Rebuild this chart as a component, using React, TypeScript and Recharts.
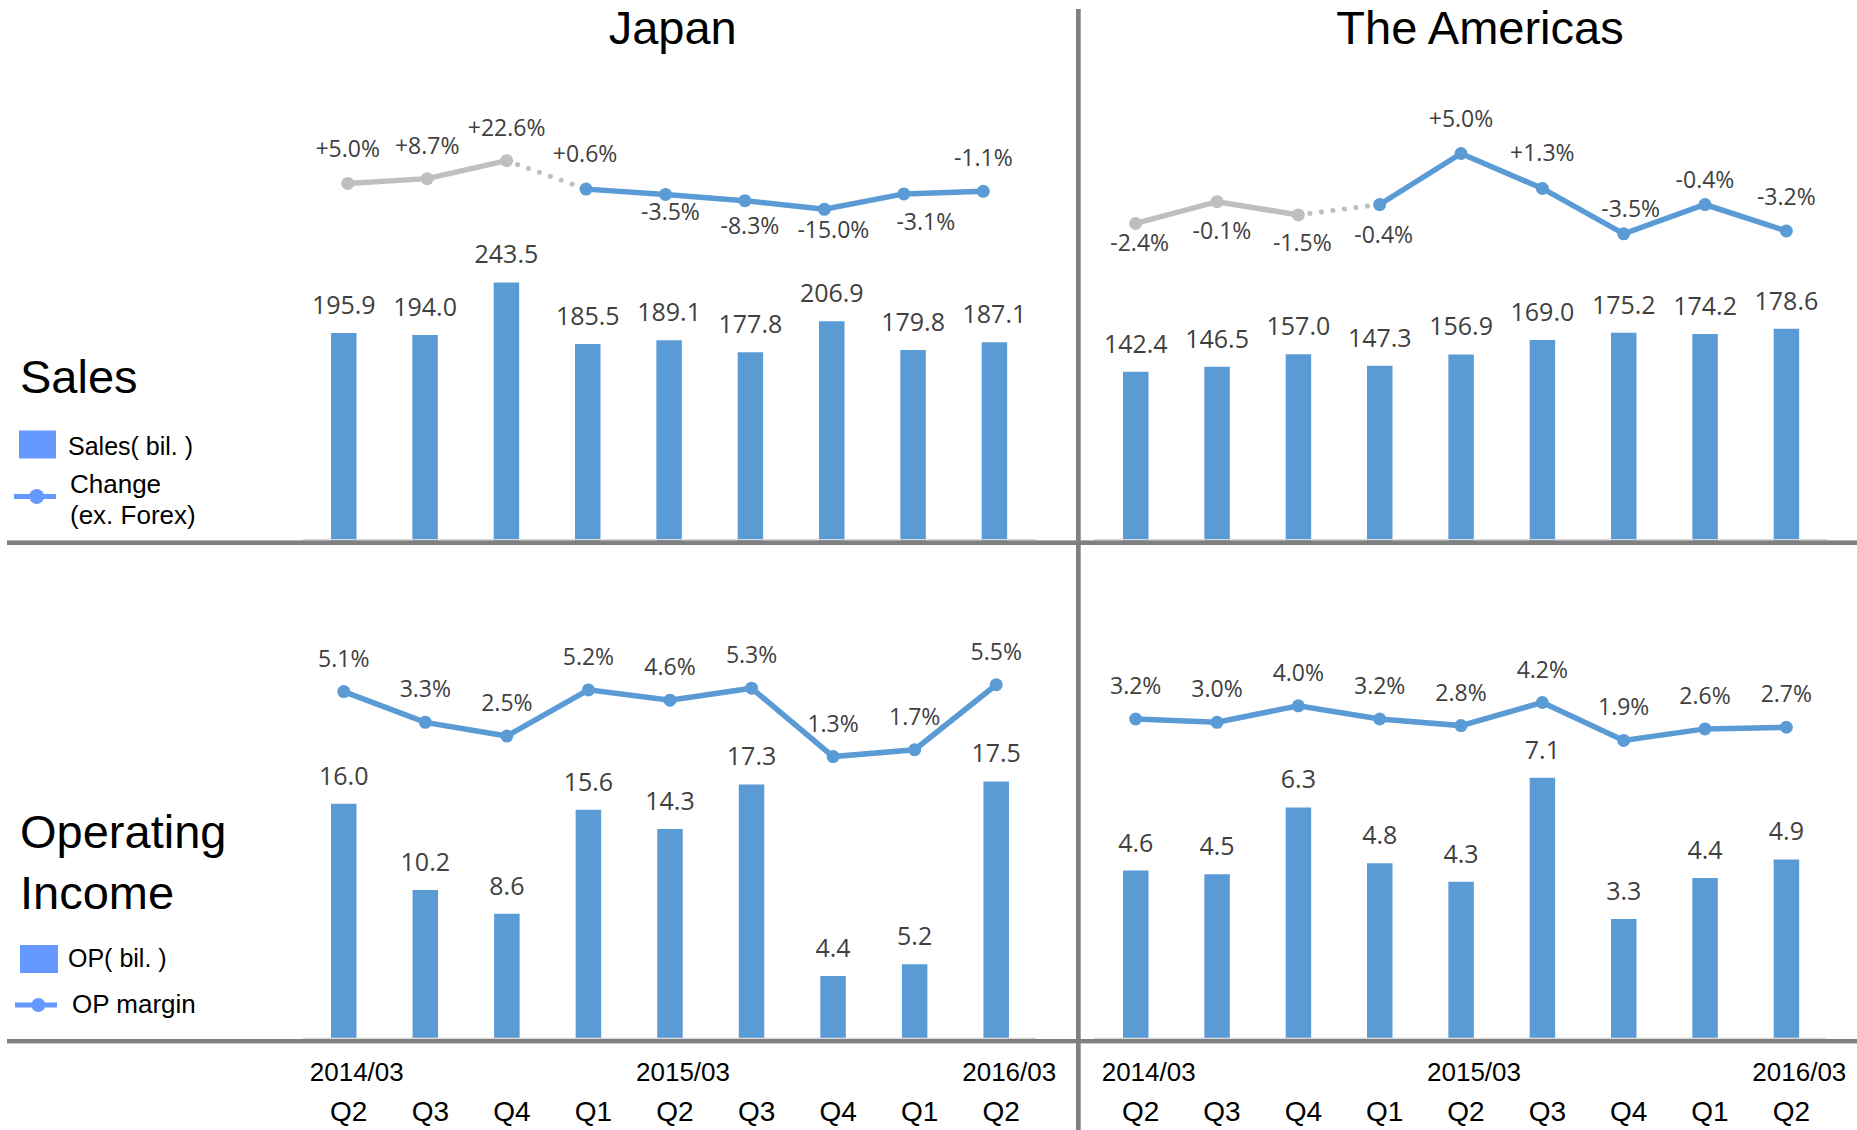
import React from 'react';
import { ComposedChart, Bar, Line, XAxis, YAxis, LabelList } from 'recharts';

// categories
const quarters = ['Q2', 'Q3', 'Q4', 'Q1', 'Q2', 'Q3', 'Q4', 'Q1', 'Q2'];
const yearLabels = ['2014/03', '', '', '', '2015/03', '', '', '', '2016/03'];

// sales (bil.) and change ex. forex (%)
const jpSales = [195.9, 194.0, 243.5, 185.5, 189.1, 177.8, 206.9, 179.8, 187.1];
const jpSalesChange = [5.0, 8.7, 22.6, 0.6, -3.5, -8.3, -15.0, -3.1, -1.1];
const amSales = [142.4, 146.5, 157.0, 147.3, 156.9, 169.0, 175.2, 174.2, 178.6];
const amSalesChange = [-2.4, -0.1, -1.5, -0.4, 5.0, 1.3, -3.5, -0.4, -3.2];

// operating income (bil.) and OP margin (%)
const jpOp = [16.0, 10.2, 8.6, 15.6, 14.3, 17.3, 4.4, 5.2, 17.5];
const jpOpMargin = [5.1, 3.3, 2.5, 5.2, 4.6, 5.3, 1.3, 1.7, 5.5];
const amOp = [4.6, 4.5, 6.3, 4.8, 4.3, 7.1, 3.3, 4.4, 4.9];
const amOpMargin = [3.2, 3.0, 4.0, 3.2, 2.8, 4.2, 1.9, 2.6, 2.7];

// last quarter drawn grey (old basis), dotted link to the next one
const BREAK = 2;

// label placement (dx, dy from the point) for the change lines
const jpChangeLabelOffset = [[0, -26], [0, -25], [0, -25], [-1, -27], [5, 26], [5, 33], [9, 29], [22, 36], [0, -25]];
const amChangeLabelOffset = [[4, 28], [5, 37], [4, 36], [4, 38], [0, -27], [0, -27], [7, -17], [0, -17], [0, -26]];

const BAR = '#5B9BD5';
const BLUE = '#5B9BD5';
const GREY = '#BFBFBF';
const LEGEND = '#6699FF';
const RULE = '#808080';
const LABEL = '#404040';
const SANS = '"Liberation Sans", Arial, sans-serif';
const LABEL_FONT = '"Open Sans", "Noto Sans", sans-serif';

type Row = { cat: string; bar: number; line: number; old: number | null; bridge: number | null; cur: number | null };

const buildRows = (bars: number[], line: number[]): Row[] =>
  quarters.map((_, i) => ({
    cat: String(i),
    bar: bars[i],
    line: line[i],
    old: i <= BREAK ? line[i] : null,
    bridge: i === BREAK || i === BREAK + 1 ? line[i] : null,
    cur: i > BREAK ? line[i] : null,
  }));

const signed = (v: number) => (v > 0 ? '+' : '') + v.toFixed(1) + '%';
const plain = (v: number) => v.toFixed(1) + '%';

const pick = (p: any) => {
  const vb = p.viewBox || {};
  return { x: p.x ?? vb.x ?? 0, y: p.y ?? vb.y ?? 0, w: p.width ?? vb.width ?? 0 };
};

const barLabel = (p: any) => {
  const { x, y, w } = pick(p);
  return (
    <text x={x + w / 2} y={y - 19} textAnchor="middle" fontSize={25} fill={LABEL} fontFamily={LABEL_FONT}>
      {Number(p.value).toFixed(1)}
    </text>
  );
};

const makeLineLabel = (fmt: (v: number) => string, offsets?: number[][]) => (p: any) => {
  const { x, y } = pick(p);
  const off = offsets && p.index != null ? offsets[p.index] : [0, -25];
  return (
    <text x={x + off[0]} y={y + off[1]} textAnchor="middle" fontSize={23} fill={LABEL} fontFamily={LABEL_FONT}>
      {fmt(Number(p.value))}
    </text>
  );
};

const quarterTick = (p: any) => {
  const i = Number(p.payload?.value);
  return (
    <g>
      {yearLabels[i] ? (
        <text x={p.x + 13} y={p.y + 39.5} textAnchor="middle" fontSize={26} fontFamily={SANS} fill="#000">
          {yearLabels[i]}
        </text>
      ) : null}
      <text x={p.x + 5} y={p.y + 79.5} textAnchor="middle" fontSize={28} fontFamily={SANS} fill="#000">
        {quarters[i]}
      </text>
    </g>
  );
};

type PanelProps = {
  rows: Row[];
  left: number;
  top: number;
  width: number;
  plotH: number;
  axisH: number;
  barPx: number; // px per bar unit
  lineZero: number; // px from plot top to 0 %
  linePx: number; // px per %
  split: boolean;
  fmt: (v: number) => string;
  offsets?: number[][];
  linePad?: { left: number; right: number };
};

const SPARE = 40; // room on the right for the last tick label

function Panel(props: PanelProps) {
  const { rows, left, top, width, plotH, axisH, barPx, lineZero, linePx, split, fmt, offsets, linePad } = props;
  const barDomain = [0, plotH / barPx];
  const lineDomain = [-(plotH - lineZero) / linePx, lineZero / linePx];
  const dot = (c: string) => ({ r: 6.5, fill: c, stroke: c, strokeWidth: 0 });
  return (
    <div style={{ position: 'absolute', left, top }}>
      <ComposedChart
        width={width + SPARE}
        height={plotH + axisH}
        data={rows}
        margin={{ top: 0, right: SPARE, bottom: 0, left: 0 }}
      >
        <XAxis
          xAxisId="bar"
          dataKey="cat"
          hide={axisH === 0}
          height={axisH || 1}
          axisLine={false}
          tickLine={false}
          tickSize={0}
          tickMargin={0}
          interval={0}
          tick={quarterTick}
        />
        <XAxis xAxisId="line" dataKey="cat" hide padding={linePad ?? { left: 0, right: 0 }} />
        <YAxis yAxisId="bar" type="number" hide domain={barDomain} allowDataOverflow />
        <YAxis yAxisId="line" type="number" hide domain={lineDomain} allowDataOverflow />
        <Bar xAxisId="bar" yAxisId="bar" dataKey="bar" fill={BAR} barSize={25.5} isAnimationActive={false}>
          <LabelList dataKey="bar" content={barLabel} />
        </Bar>
        {split ? (
          <>
            <Line xAxisId="line" yAxisId="line" dataKey="old" type="linear" stroke={GREY} strokeWidth={5.5}
              dot={dot(GREY)} activeDot={false} isAnimationActive={false} />
            <Line xAxisId="line" yAxisId="line" dataKey="bridge" type="linear" stroke={GREY} strokeWidth={5}
              strokeDasharray="0.1 11.5" strokeLinecap="round" dot={false} activeDot={false} isAnimationActive={false} />
            <Line xAxisId="line" yAxisId="line" dataKey="cur" type="linear" stroke={BLUE} strokeWidth={5.5}
              dot={dot(BLUE)} activeDot={false} isAnimationActive={false} />
          </>
        ) : (
          <Line xAxisId="line" yAxisId="line" dataKey="line" type="linear" stroke={BLUE} strokeWidth={5.5}
            dot={dot(BLUE)} activeDot={false} isAnimationActive={false} />
        )}
        <Line xAxisId="line" yAxisId="line" dataKey="line" stroke="none" dot={false} activeDot={false} isAnimationActive={false}>
          <LabelList dataKey="line" content={makeLineLabel(fmt, offsets)} />
        </Line>
      </ComposedChart>
    </div>
  );
}

function Overlay() {
  const t = (x: number, y: number, s: number, txt: string, anchor: 'start' | 'middle' = 'start') => (
    <text x={x} y={y} fontSize={s} fontFamily={SANS} fill="#000" textAnchor={anchor}>
      {txt}
    </text>
  );
  return (
    <svg width={1857} height={1130} style={{ position: 'absolute', left: 0, top: 0, pointerEvents: 'none' }}>
      {t(672.7, 44, 47, 'Japan', 'middle')}
      {t(1480, 44, 47, 'The Americas', 'middle')}

      {t(20, 393, 47, 'Sales')}
      <rect x={19} y={430.5} width={37} height={28} fill={LEGEND} />
      {t(68, 455, 25, 'Sales( bil. )')}
      <line x1={14} x2={56} y1={496.5} y2={496.5} stroke={LEGEND} strokeWidth={5} />
      <circle cx={36.7} cy={496.5} r={7.5} fill={LEGEND} />
      {t(70, 493, 26, 'Change')}
      {t(70, 524, 26, '(ex. Forex)')}

      {t(20, 848, 47, 'Operating')}
      {t(20, 909, 47, 'Income')}
      <rect x={20} y={945} width={38} height={28} fill={LEGEND} />
      {t(68, 967, 25, 'OP( bil. )')}
      <line x1={15} x2={57} y1={1005} y2={1005} stroke={LEGEND} strokeWidth={5} />
      <circle cx={38.3} cy={1005} r={7} fill={LEGEND} />
      {t(72, 1013, 26, 'OP margin')}

      {/* thin axis lines */}
      <rect x={303} y={539} width={733} height={1.4} fill="#D9D9D9" />
      <rect x={1094} y={539} width={733} height={1.4} fill="#D9D9D9" />
      <rect x={303} y={1037.7} width={733} height={1.4} fill="#D9D9D9" />
      <rect x={1094} y={1037.7} width={733} height={1.4} fill="#D9D9D9" />

      {/* panel rules */}
      <rect x={7} y={540.4} width={1850} height={4.6} fill={RULE} />
      <rect x={7} y={1039} width={1850} height={4.4} fill={RULE} />
      <rect x={1076} y={9} width={4.7} height={1121} fill={RULE} />
    </svg>
  );
}

export default function App() {
  return (
    <div style={{ position: 'absolute', left: 0, top: 0, width: 1857, height: 1130, background: '#fff', overflow: 'hidden' }}>
      <Panel rows={buildRows(jpSales, jpSalesChange)} left={303} top={60} width={732} plotH={481} axisH={0}
        barPx={1.062} lineZero={129.9} linePx={1.294} split fmt={signed} offsets={jpChangeLabelOffset}
        linePad={{ left: 5, right: 12 }} />
      <Panel rows={buildRows(amSales, amSalesChange)} left={1095} top={60} width={732} plotH={481} axisH={0}
        barPx={1.189} lineZero={140.75} linePx={9.45} split fmt={signed} offsets={amChangeLabelOffset} />
      <Panel rows={buildRows(jpOp, jpOpMargin)} left={303} top={560} width={734} plotH={481.5} axisH={88.5}
        barPx={14.86} lineZero={218.8} linePx={17.1} split={false} fmt={plain} />
      <Panel rows={buildRows(amOp, amOpMargin)} left={1095} top={560} width={732} plotH={481.5} axisH={88.5}
        barPx={37.15} lineZero={211.8} linePx={16.5} split={false} fmt={plain} />
      <Overlay />
    </div>
  );
}
